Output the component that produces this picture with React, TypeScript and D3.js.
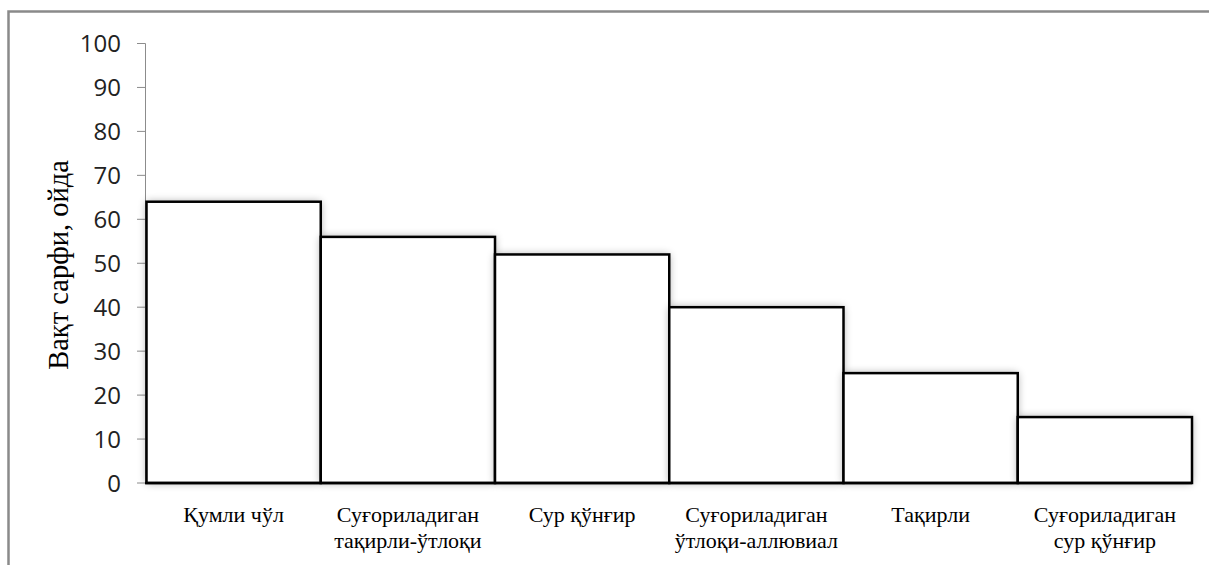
import { useMemo } from 'react'
import { scaleBand, scaleLinear, range } from 'd3'

// soil types (two-line labels split on '|')
const CATEGORIES = [
  'Қумли чўл',
  'Суғориладиган|тақирли-ўтлоқи',
  'Сур қўнғир',
  'Суғориладиган|ўтлоқи-аллювиал',
  'Тақирли',
  'Суғориладиган|сур қўнғир',
]
const VALUES = [64, 56, 52, 40, 25, 15]
const Y_TICKS = range(0, 101, 10)
const Y_LABEL = 'Вақт сарфи, ойда'

const W = 1209
const H = 565
const LEFT = 146.5
const RIGHT = 1192
const TOP = 43.5
const BOTTOM = 483

export default function App() {
  const { x, y } = useMemo(
    () => ({
      x: scaleBand<string>().domain(CATEGORIES).range([LEFT, RIGHT]).padding(0),
      y: scaleLinear().domain([0, 100]).range([BOTTOM, TOP]),
    }),
    [],
  )

  return (
    <svg
      width={W}
      height={H}
      viewBox={`0 0 ${W} ${H}`}
      style={{ position: 'absolute', left: 0, top: 0, background: '#fff' }}
    >
      <defs>
        <filter id="blur" x="-30%" y="-30%" width="160%" height="160%">
          <feGaussianBlur stdDeviation={4} />
        </filter>
      </defs>

      {/* outer frame, runs off the right and bottom of the picture */}
      <rect x={8.5} y={11.5} width={1400} height={700} fill="#fff" stroke="#8a8a8a" strokeWidth={2.5} />

      {/* y axis */}
      <line x1={145.5} x2={145.5} y1={y(100)} y2={y(0)} stroke="#8c8c8c" strokeWidth={1} />
      {Y_TICKS.map((t) => (
        <g key={t}>
          <line x1={137} x2={145.5} y1={y(t)} y2={y(t)} stroke="#8c8c8c" strokeWidth={1} />
          <text
            x={121}
            y={y(t)}
            dy="0.36em"
            textAnchor="end"
            fontFamily="'Open Sans', sans-serif"
            fontSize={24}
            fill="#222"
          >
            {t}
          </text>
        </g>
      ))}

      {/* bars, each with a soft glow drawn just before it */}
      {CATEGORIES.map((c, i) => (
        <g key={c}>
          <rect
            x={x(c)}
            y={y(VALUES[i])}
            width={x.bandwidth()}
            height={y(0) - y(VALUES[i])}
            fill="#000"
            opacity={0.35}
            filter="url(#blur)"
          />
          <rect
            x={x(c)}
            y={y(VALUES[i])}
            width={x.bandwidth()}
            height={y(0) - y(VALUES[i])}
            fill="#fff"
            stroke="#000"
            strokeWidth={2.5}
          />
        </g>
      ))}

      {/* baseline */}
      <line x1={145} x2={RIGHT} y1={y(0)} y2={y(0)} stroke="#000" strokeWidth={2.5} />

      {/* category labels */}
      {CATEGORIES.map((c) => {
        const cx = (x(c) ?? 0) + x.bandwidth() / 2
        return (
          <text
            key={c}
            x={cx}
            y={522}
            textAnchor="middle"
            fontFamily="'Liberation Serif', 'Times New Roman', serif"
            fontSize={22}
            fill="#000"
          >
            {c.split('|').map((line, j) => (
              <tspan key={j} x={cx} dy={j === 0 ? 0 : 26}>
                {line}
              </tspan>
            ))}
          </text>
        )
      })}

      {/* y axis title */}
      <text
        transform={`translate(68,265) rotate(-90)`}
        textAnchor="middle"
        fontFamily="'Liberation Serif', 'Times New Roman', serif"
        fontSize={28.5}
        fill="#000"
      >
        {Y_LABEL}
      </text>
    </svg>
  )
}
